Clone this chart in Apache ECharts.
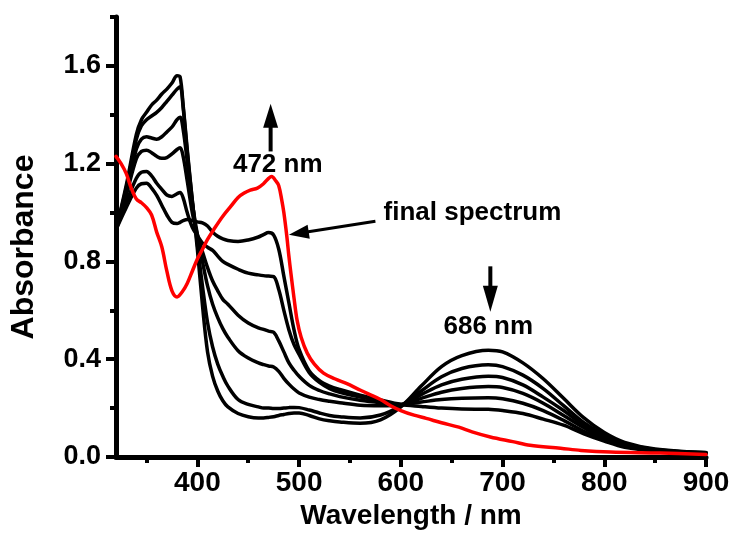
<!DOCTYPE html>
<html>
<head>
<meta charset="utf-8">
<script src="https://cdn.jsdelivr.net/npm/echarts@6/dist/echarts.min.js"></script>
<style>
  html, body { margin: 0; padding: 0; background: #ffffff; }
  #chart { width: 735px; height: 538px; }
</style>
</head>
<body>
<div id="chart"></div>
<script>
// Wavelength grid (nm) shared by the titration spectra
const wavelengths = [320,330,340,345,350,355,360,365,370,375,
  380,383,386,390,395,400,405,410,415,420,
  425,430,440,450,460,465,470,475,480,485,
  490,495,500,510,520,530,540,560,580,600,
  620,640,660,686,700,720,740,760,780,800,
  820,850,900];

// Absorbance of the successive titration spectra (first to last)
const spectrum1 = [0.93,1.11,1.32,1.38,1.41,1.44,1.46,1.485,1.505,1.53,
  1.56,1.555,1.44,1.26,1.05,0.85,0.62,0.43,0.33,0.27,
  0.23,0.205,0.178,0.165,0.16,0.16,0.162,0.165,0.17,0.174,
  0.178,0.18,0.18,0.17,0.156,0.148,0.143,0.138,0.152,0.205,
  0.29,0.37,0.415,0.437,0.43,0.385,0.32,0.24,0.16,0.1,
  0.06,0.033,0.018];
const spectrum2 = [0.93,1.1,1.3,1.355,1.38,1.395,1.41,1.43,1.455,1.48,
  1.505,1.515,1.43,1.25,1.05,0.87,0.7,0.55,0.45,0.38,
  0.33,0.29,0.235,0.215,0.205,0.2,0.2,0.198,0.198,0.2,
  0.202,0.203,0.202,0.192,0.18,0.17,0.165,0.16,0.172,0.21,
  0.27,0.328,0.362,0.377,0.37,0.335,0.28,0.21,0.14,0.09,
  0.055,0.03,0.017];
const spectrum3 = [0.93,1.08,1.26,1.3,1.31,1.305,1.3,1.31,1.33,1.35,
  1.38,1.39,1.34,1.21,1.04,0.91,0.8,0.7,0.625,0.57,
  0.525,0.49,0.435,0.405,0.385,0.378,0.372,0.368,0.35,0.322,
  0.298,0.278,0.262,0.245,0.235,0.228,0.222,0.212,0.21,0.213,
  0.255,0.295,0.318,0.33,0.325,0.295,0.245,0.19,0.13,0.085,
  0.05,0.03,0.017];
const spectrum4 = [0.93,1.07,1.22,1.25,1.255,1.245,1.23,1.222,1.225,1.24,
  1.258,1.265,1.23,1.13,1.0,0.91,0.84,0.775,0.72,0.68,
  0.645,0.625,0.58,0.548,0.528,0.522,0.515,0.51,0.475,0.43,
  0.385,0.355,0.33,0.293,0.272,0.258,0.247,0.232,0.222,0.215,
  0.24,0.265,0.28,0.288,0.284,0.26,0.22,0.17,0.12,0.078,
  0.048,0.028,0.016];
const spectrum5 = [0.93,1.04,1.14,1.165,1.168,1.15,1.12,1.095,1.072,1.066,
  1.077,1.082,1.06,1.0,0.94,0.905,0.875,0.858,0.845,0.822,
  0.8,0.788,0.768,0.752,0.745,0.742,0.74,0.738,0.685,0.6,
  0.52,0.46,0.42,0.345,0.305,0.28,0.265,0.245,0.23,0.215,
  0.225,0.235,0.24,0.242,0.238,0.22,0.19,0.15,0.105,0.07,
  0.045,0.026,0.015];
const spectrum6 = [0.93,1.02,1.1,1.118,1.12,1.1,1.07,1.03,0.99,0.96,
  0.955,0.96,0.967,0.972,0.968,0.962,0.958,0.945,0.92,0.903,
  0.892,0.886,0.882,0.888,0.9,0.91,0.918,0.908,0.85,0.74,
  0.63,0.52,0.44,0.352,0.312,0.29,0.276,0.253,0.233,0.215,
  0.207,0.2,0.196,0.195,0.19,0.178,0.155,0.13,0.095,0.065,
  0.04,0.025,0.015];

// Final spectrum (red)
const finalWavelengths = [320,325,330,335,340,345,350,355,360,365,
  370,375,380,385,390,395,400,405,410,416,
  425,433,440,446,452,459,465,470,473,477,
  480,483,485,488,490,492,495,498,502,508,
  515,524,535,547,557,567,580,590,600,613,
  625,640,657,670,688,710,727,757,777,806,
  855,900];
const finalAbsorbance = [1.23,1.2,1.16,1.1,1.055,1.04,1.02,0.99,0.92,0.86,
  0.76,0.68,0.655,0.675,0.71,0.76,0.81,0.85,0.89,0.93,
  0.985,1.026,1.062,1.08,1.092,1.1,1.118,1.14,1.148,1.13,
  1.11,1.05,1.0,0.9,0.82,0.75,0.65,0.56,0.49,0.425,
  0.38,0.343,0.32,0.3,0.28,0.26,0.235,0.21,0.19,0.171,
  0.158,0.14,0.122,0.103,0.082,0.063,0.048,0.036,0.027,0.02,
  0.016,0.01];

// Axis ticks
const xMajorTicks = [400, 500, 600, 700, 800, 900];
const xMinorTicks = [350, 450, 550, 650, 750, 850];
const yMajorTicks = [0, 0.4, 0.8, 1.2, 1.6];
const yMinorTicks = [0.2, 0.6, 1.0, 1.4, 1.8];

// Annotation texts
const riseLabel = '472 nm';
const fallLabel = '686 nm';
const finalLabel = 'final spectrum';

const FONT = '"Liberation Sans", Arial, Helvetica, sans-serif';
const titration = [spectrum1, spectrum2, spectrum3, spectrum4, spectrum5, spectrum6];

const pairs = (xs, ys) => xs.map((x, i) => [x, ys[i]]);

const lineSeries = titration.map((ys, i) => ({
  name: 'spectrum ' + (i + 1),
  type: 'line',
  data: pairs(wavelengths, ys),
  showSymbol: false,
  smooth: 0.35,
  lineStyle: { color: '#000000', width: 3.5, join: 'round', cap: 'round' },
  z: 2
}));
lineSeries.push({
  name: 'final spectrum',
  type: 'line',
  data: pairs(finalWavelengths, finalAbsorbance),
  showSymbol: false,
  smooth: 0.35,
  lineStyle: { color: '#ff0000', width: 3.5, join: 'round', cap: 'round' },
  z: 3
});

const baseX = { type: 'value', min: 320, max: 900, gridIndex: 0, position: 'bottom', splitLine: { show: false } };
const baseY = { type: 'value', min: 0, max: 1.8, gridIndex: 0, position: 'left', splitLine: { show: false } };

const option = {
  animation: false,
  backgroundColor: '#ffffff',
  grid: { left: 116, right: 29, top: 17, bottom: 81, containLabel: false },
  xAxis: [
    Object.assign({}, baseX, {
      name: 'Wavelength / nm',
      nameLocation: 'middle',
      nameGap: 44,
      nameTextStyle: { fontFamily: FONT, fontWeight: 'bold', fontSize: 28, color: '#000' },
      axisLine: { show: true, lineStyle: { color: '#000', width: 5 } },
      axisTick: { show: true, customValues: xMajorTicks, length: 10, lineStyle: { color: '#000', width: 4 } },
      axisLabel: { show: true, customValues: xMajorTicks, margin: 12, fontFamily: FONT, fontWeight: 'bold', fontSize: 28, color: '#000' }
    }),
    Object.assign({}, baseX, {
      axisLine: { show: false },
      axisTick: { show: true, customValues: xMinorTicks, length: 6, lineStyle: { color: '#000', width: 4 } },
      axisLabel: { show: false }
    })
  ],
  yAxis: [
    Object.assign({}, baseY, {
      name: 'Absorbance',
      nameLocation: 'middle',
      nameRotate: 90,
      nameGap: 76,
      nameTextStyle: { fontFamily: FONT, fontWeight: 'bold', fontSize: 32, color: '#000', padding: [0, 20, 0, 0] },
      axisLine: { show: true, lineStyle: { color: '#000', width: 5 } },
      axisTick: { show: true, customValues: yMajorTicks, length: 10, lineStyle: { color: '#000', width: 4 } },
      axisLabel: { show: true, customValues: yMajorTicks, margin: 15, fontFamily: FONT, fontWeight: 'bold', fontSize: 27, color: '#000',
        formatter: v => Number(v).toFixed(1) }
    }),
    Object.assign({}, baseY, {
      axisLine: { show: false },
      axisTick: { show: true, customValues: yMinorTicks, length: 6, lineStyle: { color: '#000', width: 4 } },
      axisLabel: { show: false }
    })
  ],
  series: lineSeries.map(s => Object.assign(s, { xAxisIndex: 0, yAxisIndex: 0 }))
};

const chart = echarts.init(document.getElementById('chart'), null, { renderer: 'canvas' });
chart.setOption(option);

// Annotations placed in data coordinates
const toPx = p => chart.convertToPixel({ seriesIndex: 0 }, p);

function arrow(from, to, headLen, headWidth, shaftWidth) {
  const [x1, y1] = toPx(from);
  const [x2, y2] = toPx(to);
  const dx = x2 - x1, dy = y2 - y1, len = Math.hypot(dx, dy);
  const ux = dx / len, uy = dy / len;
  const bx = x2 - ux * headLen, by = y2 - uy * headLen;
  const nx = -uy * headWidth / 2, ny = ux * headWidth / 2;
  return [
    { type: 'line', shape: { x1: x1, y1: y1, x2: bx + ux * 2, y2: by + uy * 2 },
      style: { stroke: '#000', lineWidth: shaftWidth }, z: 10 },
    { type: 'polygon', shape: { points: [[x2, y2], [bx + nx, by + ny], [bx - nx, by - ny]] },
      style: { fill: '#000' }, z: 10 }
  ];
}

function label(text, at, align, size) {
  const [x, y] = toPx(at);
  return { type: 'text', z: 10,
    style: { text: text, x: x, y: y, align: align, verticalAlign: 'middle',
      font: 'bold ' + size + 'px ' + FONT, fill: '#000' } };
}

chart.setOption({
  graphic: [].concat(
    arrow([472, 1.25], [472, 1.445], 24, 15, 4),
    [label(riseLabel, [479, 1.197], 'center', 26)],
    arrow([688, 0.78], [688, 0.594], 26, 15, 4),
    [label(fallLabel, [686, 0.532], 'center', 26)],
    arrow([575, 0.964], [490, 0.909], 20, 14, 3),
    [label(finalLabel, [583, 1.0], 'left', 26)]
  )
});
</script>
</body>
</html>
